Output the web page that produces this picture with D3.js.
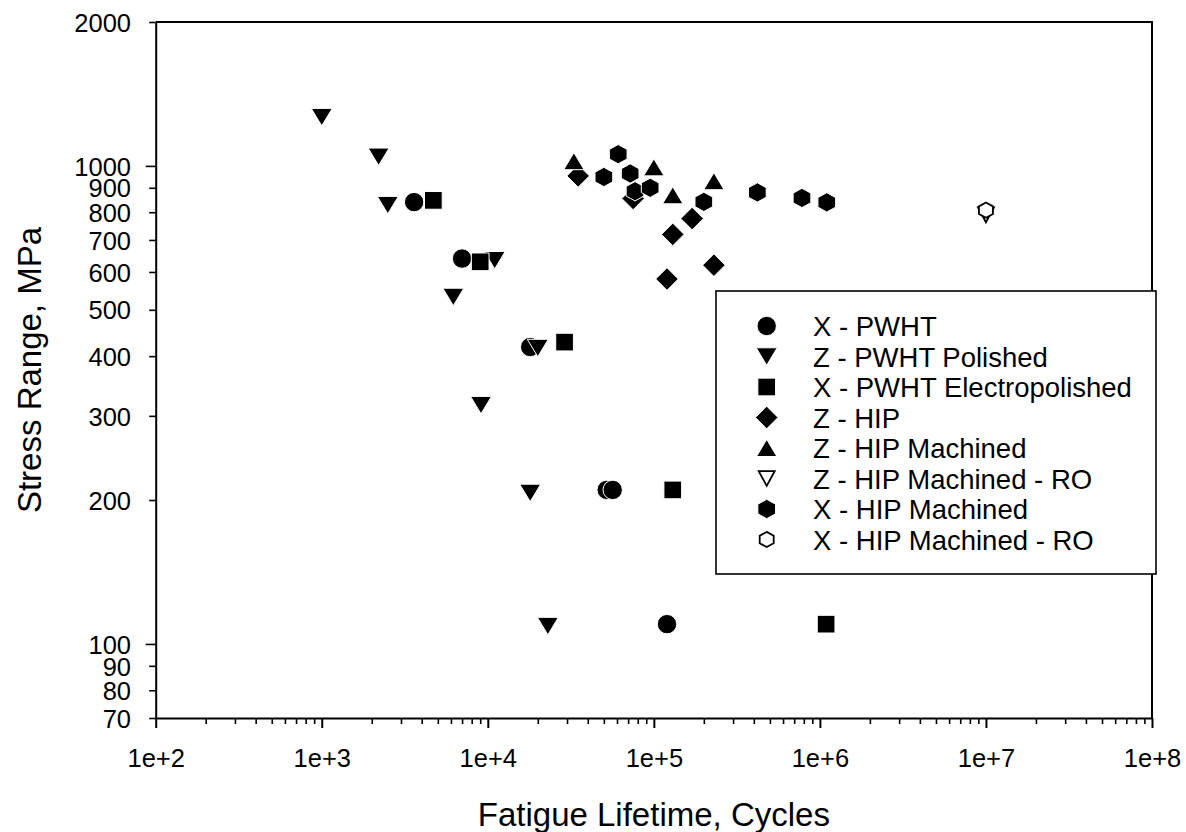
<!DOCTYPE html>
<html>
<head>
<meta charset="utf-8">
<script src="https://cdn.jsdelivr.net/npm/d3@7"></script>
<style>
  body { margin: 0; background: #fff; }
  text { font-family: "Liberation Sans", Arial, sans-serif; fill: #000; }
</style>
</head>
<body>
<div id="graph1"></div>
<script>
// series values, cycles (N) and stress range in MPa (S)
var xPwhtN = [3600, 7000, 18000, 52000, 56500, 120000]
var xPwhtS = [840, 640, 418, 210, 210, 110]
var zPolN = [1000, 2200, 2500, 6200, 9100, 11000, 18000, 20000, 23000]
var zPolS = [1265, 1045, 828, 532, 316, 635, 207, 416, 109]
var xElecN = [4700, 9000, 29000, 130000, 1090000]
var xElecS = [847, 630, 428, 210, 110]
var zHipN = [35000, 75000, 120000, 130000, 170000, 230000]
var zHipS = [953, 855, 580, 719, 776, 620]
var zHipMN = [33000, 100000, 130000, 230000]
var zHipMS = [1023, 993, 868, 929]
var zHipRoN = [10000000]
var zHipRoS = [790]
var xHipMN = [50000, 61000, 72000, 77000, 95000, 200000, 420000, 780000, 1100000]
var xHipMS = [948, 1058, 964, 885, 900, 841, 880, 857, 839]
var xHipRoN = [10000000]
var xHipRoS = [808]

var seriesNames = ["X - PWHT", "Z - PWHT Polished", "X - PWHT Electropolished", "Z - HIP",
  "Z - HIP Machined", "Z - HIP Machined - RO", "X - HIP Machined", "X - HIP Machined - RO"]

var xTickValues = [1e2, 1e3, 1e4, 1e5, 1e6, 1e7, 1e8]
var xTickLabels = ["1e+2", "1e+3", "1e+4", "1e+5", "1e+6", "1e+7", "1e+8"]
var yTickValues = [70, 80, 90, 100, 200, 300, 400, 500, 600, 700, 800, 900, 1000, 2000]

// marker paths centred on 0,0
function shape(kind){
  switch(kind){
    case "circle": return d3.symbol().type(d3.symbolCircle).size(Math.PI*9.7*9.7)()
    case "triDown": return "M-10.5,-8.7L10.5,-8.7L0,8.7Z"
    case "triUp": return "M0,-8.5L10.2,8.5L-10.2,8.5Z"
    case "square": return "M-8.85,-8.85H8.85V8.85H-8.85Z"
    case "diamond": return "M0,-11.3L11.3,0L0,11.3L-11.3,0Z"
    case "hex": return "M0,-9.65L8.85,-4.8L8.85,4.8L0,9.65L-8.85,4.8L-8.85,-4.8Z"
    case "triDownOpen": return "M-8,-7.4L8,-7.4L0,7.4Z"
    case "hexOpen": return "M0,-7.6L7,-3.8L7,3.8L0,7.6L-7,3.8L-7,-3.8Z"
  }
}

var series = [
  {name: seriesNames[0], n: xPwhtN, s: xPwhtS, kind: "circle", open: false},
  {name: seriesNames[1], n: zPolN, s: zPolS, kind: "triDown", open: false},
  {name: seriesNames[2], n: xElecN, s: xElecS, kind: "square", open: false},
  {name: seriesNames[3], n: zHipN, s: zHipS, kind: "diamond", open: false},
  {name: seriesNames[4], n: zHipMN, s: zHipMS, kind: "triUp", open: false},
  {name: seriesNames[5], n: zHipRoN, s: zHipRoS, kind: "triDownOpen", open: true},
  {name: seriesNames[6], n: xHipMN, s: xHipMS, kind: "hex", open: false},
  {name: seriesNames[7], n: xHipRoN, s: xHipRoS, kind: "hexOpen", open: true}
]

function styleMarker(sel, d){
  sel.attr("d", shape(d.kind))
    .attr("fill", d.open ? "#fff" : "#000")
    .attr("stroke", d.open ? "#000" : "#fff")
    .attr("stroke-width", d.open ? 1.8 : 1)
}

function draw(){
  var W = 1186, H = 832
  var left = 155.7, right = 1152, top = 22, bottom = 718

  var xscale = d3.scaleLog().domain([1e2, 1e8]).range([left, right])
  var yscale = d3.scaleLog().domain([70, 2000]).range([bottom, top])

  var svg = d3.select("#graph1").append("svg")
    .attr("width", W).attr("height", H)

  // frame top and right
  svg.append("path")
    .attr("d", "M" + left + "," + top + "H" + right + "V" + bottom)
    .attr("fill", "none").attr("stroke", "#000").attr("stroke-width", 2)

  // x axis: minor ticks then major labelled ticks
  var minors = []
  for (var e = 2; e < 8; e++) for (var k = 2; k < 10; k++) minors.push(k * Math.pow(10, e))
  svg.append("g")
    .attr("transform", "translate(0," + bottom + ")")
    .call(d3.axisBottom(xscale).tickValues(minors).tickSize(6).tickSizeOuter(0).tickFormat(""))
    .call(g => g.select(".domain").remove())
    .call(g => g.selectAll(".tick line").attr("stroke-width", 1.6))

  var xa = svg.append("g")
    .attr("transform", "translate(0," + bottom + ")")
    .call(d3.axisBottom(xscale).tickValues(xTickValues).tickSize(10).tickSizeOuter(0)
      .tickFormat((d, i) => xTickLabels[i]))
  xa.select(".domain").attr("stroke-width", 2)
  xa.selectAll(".tick line").attr("stroke-width", 2)
  xa.selectAll(".tick text").attr("y", 49).attr("dy", null)
    .style("font-size", "25.5px").style("font-family", '"Liberation Sans", Arial, sans-serif')

  // y axis
  var ya = svg.append("g")
    .attr("transform", "translate(" + left + ",0)")
    .call(d3.axisLeft(yscale).tickValues(yTickValues).tickSizeOuter(0)
      .tickFormat(d3.format("d")))
  ya.select(".domain").attr("stroke-width", 2)
  ya.selectAll(".tick line")
    .attr("x2", d => (d === 100 || d === 1000) ? -10 : -6.5)
    .attr("stroke-width", 1.6)
  ya.selectAll(".tick text").attr("x", -24.7).attr("dy", "0.36em")
    .style("font-size", "25.5px").style("font-family", '"Liberation Sans", Arial, sans-serif')

  // axis titles
  svg.append("text")
    .attr("x", (left + right) / 2).attr("y", 826)
    .attr("text-anchor", "middle")
    .style("font-size", "33px")
    .text("Fatigue Lifetime, Cycles")

  svg.append("text")
    .attr("transform", "translate(41," + (top + bottom) / 2 + ") rotate(-90)")
    .attr("text-anchor", "middle")
    .style("font-size", "33px")
    .text("Stress Range, MPa")

  // data points
  var plot = svg.append("g")
  series.forEach(function(ser){
    var pts = ser.n.map((n, i) => ({n: n, s: ser.s[i]}))
    plot.selectAll(null)
      .data(pts)
      .enter().append("path")
      .attr("transform", d => "translate(" + xscale(d.n) + "," + yscale(d.s) + ")")
      .each(function(){ styleMarker(d3.select(this), ser) })
  })

  // legend
  var lg = svg.append("g")
  lg.append("rect")
    .attr("x", 716).attr("y", 291).attr("width", 440).attr("height", 283)
    .attr("fill", "#fff").attr("stroke", "#000").attr("stroke-width", 1.6)
  series.forEach(function(ser, i){
    var cy = 326 + i * 30.5
    lg.append("path")
      .attr("transform", "translate(766.7," + cy + ")")
      .call(sel => styleMarker(sel, ser))
    lg.append("text")
      .attr("x", 813).attr("y", cy + 10)
      .style("font-size", "27.5px")
      .text(ser.name)
  })
}

draw()
</script>
</body>
</html>
